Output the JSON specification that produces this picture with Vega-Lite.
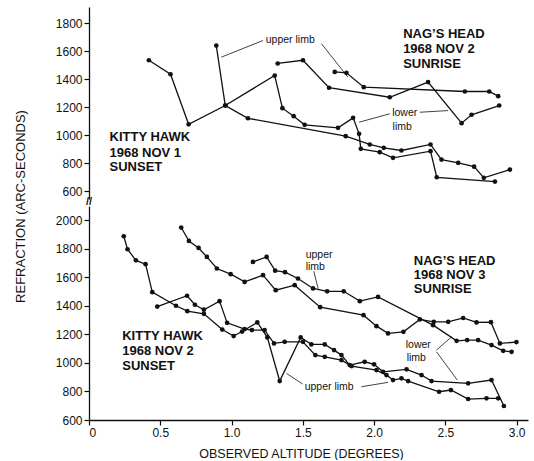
{
  "$schema": "https://vega.github.io/schema/vega-lite/v6.json",
  "background": "white",
  "padding": {"left": 14, "top": 7, "right": 5, "bottom": 0},
  "spacing": 7,
  "bounds": "flush",
  "config": {
    "view": {"stroke": null},
    "font": "Liberation Sans",
    "axis": {
      "grid": false,
      "labelOverlap": false,
      "domainColor": "#111",
      "tickColor": "#111",
      "labelColor": "#111",
      "titleColor": "#111",
      "labelFont": "Liberation Sans",
      "titleFont": "Liberation Sans",
      "labelFontSize": 12,
      "tickSize": 5,
      "labelPadding": 2,
      "domainWidth": 1.3,
      "tickWidth": 1.2
    }
  },
  "datasets": {
    "top": [
      {"s": "KH1a", "i": 1, "alt": 0.42, "ref": 1535},
      {"s": "KH1a", "i": 2, "alt": 0.572, "ref": 1435},
      {"s": "KH1a", "i": 3, "alt": 0.699, "ref": 1078},
      {"s": "KH1a", "i": 4, "alt": 0.956, "ref": 1212},
      {"s": "KH1a", "i": 5, "alt": 1.303, "ref": 1426},
      {"s": "KH1a", "i": 6, "alt": 1.357, "ref": 1193},
      {"s": "KH1a", "i": 7, "alt": 1.436, "ref": 1136},
      {"s": "KH1a", "i": 8, "alt": 1.513, "ref": 1074},
      {"s": "KH1a", "i": 9, "alt": 1.747, "ref": 1053},
      {"s": "KH1a", "i": 10, "alt": 1.853, "ref": 1124},
      {"s": "KH1a", "i": 11, "alt": 1.895, "ref": 1010},
      {"s": "KH1a", "i": 12, "alt": 1.907, "ref": 903},
      {"s": "KH1a", "i": 13, "alt": 2.04, "ref": 879},
      {"s": "KH1a", "i": 14, "alt": 2.133, "ref": 839},
      {"s": "KH1a", "i": 15, "alt": 2.396, "ref": 886},
      {"s": "KH1a", "i": 16, "alt": 2.44, "ref": 700},
      {"s": "KH1a", "i": 17, "alt": 2.848, "ref": 669},
      {"s": "KH1b", "i": 1, "alt": 0.893, "ref": 1640},
      {"s": "KH1b", "i": 2, "alt": 0.956, "ref": 1212},
      {"s": "KH1b", "i": 3, "alt": 1.115, "ref": 1121},
      {"s": "KH1b", "i": 4, "alt": 1.801, "ref": 993},
      {"s": "KH1b", "i": 5, "alt": 1.97, "ref": 934},
      {"s": "KH1b", "i": 6, "alt": 2.068, "ref": 910},
      {"s": "KH1b", "i": 7, "alt": 2.192, "ref": 891},
      {"s": "KH1b", "i": 8, "alt": 2.396, "ref": 934},
      {"s": "KH1b", "i": 9, "alt": 2.473, "ref": 826},
      {"s": "KH1b", "i": 10, "alt": 2.59, "ref": 803},
      {"s": "KH1b", "i": 11, "alt": 2.702, "ref": 776},
      {"s": "KH1b", "i": 12, "alt": 2.77, "ref": 696},
      {"s": "KH1b", "i": 13, "alt": 2.953, "ref": 755},
      {"s": "NH2a", "i": 1, "alt": 1.324, "ref": 1512},
      {"s": "NH2a", "i": 2, "alt": 1.501, "ref": 1535},
      {"s": "NH2a", "i": 3, "alt": 1.684, "ref": 1339},
      {"s": "NH2a", "i": 4, "alt": 2.11, "ref": 1271},
      {"s": "NH2a", "i": 5, "alt": 2.379, "ref": 1379},
      {"s": "NH2a", "i": 6, "alt": 2.614, "ref": 1086},
      {"s": "NH2a", "i": 7, "alt": 2.684, "ref": 1146},
      {"s": "NH2a", "i": 8, "alt": 2.878, "ref": 1212},
      {"s": "NH2b", "i": 1, "alt": 1.724, "ref": 1452},
      {"s": "NH2b", "i": 2, "alt": 1.806, "ref": 1445},
      {"s": "NH2b", "i": 3, "alt": 1.928, "ref": 1343},
      {"s": "NH2b", "i": 4, "alt": 2.637, "ref": 1312},
      {"s": "NH2b", "i": 5, "alt": 2.808, "ref": 1312},
      {"s": "NH2b", "i": 6, "alt": 2.871, "ref": 1279}
    ],
    "bottom": [
      {"s": "U1", "i": 1, "alt": 0.647, "ref": 1949},
      {"s": "U1", "i": 2, "alt": 0.701, "ref": 1855},
      {"s": "U1", "i": 3, "alt": 0.769, "ref": 1806},
      {"s": "U1", "i": 4, "alt": 0.827, "ref": 1743},
      {"s": "U1", "i": 5, "alt": 0.897, "ref": 1662},
      {"s": "U1", "i": 6, "alt": 0.994, "ref": 1622},
      {"s": "U1", "i": 7, "alt": 1.092, "ref": 1568},
      {"s": "U1", "i": 8, "alt": 1.221, "ref": 1615},
      {"s": "U1", "i": 9, "alt": 1.31, "ref": 1510},
      {"s": "U1", "i": 10, "alt": 1.443, "ref": 1545},
      {"s": "U1", "i": 11, "alt": 1.622, "ref": 1391},
      {"s": "U1", "i": 12, "alt": 1.926, "ref": 1335},
      {"s": "U1", "i": 13, "alt": 2.017, "ref": 1258},
      {"s": "U1", "i": 14, "alt": 2.098, "ref": 1207},
      {"s": "U1", "i": 15, "alt": 2.206, "ref": 1218},
      {"s": "U1", "i": 16, "alt": 2.321, "ref": 1305},
      {"s": "U1", "i": 17, "alt": 2.419, "ref": 1288},
      {"s": "U1", "i": 18, "alt": 2.52, "ref": 1288},
      {"s": "U1", "i": 19, "alt": 2.625, "ref": 1315},
      {"s": "U1", "i": 20, "alt": 2.719, "ref": 1284},
      {"s": "U1", "i": 21, "alt": 2.82, "ref": 1286},
      {"s": "U1", "i": 22, "alt": 2.883, "ref": 1137},
      {"s": "U1", "i": 23, "alt": 2.999, "ref": 1146},
      {"s": "U2", "i": 1, "alt": 1.15, "ref": 1708},
      {"s": "U2", "i": 2, "alt": 1.246, "ref": 1743},
      {"s": "U2", "i": 3, "alt": 1.306, "ref": 1647},
      {"s": "U2", "i": 4, "alt": 1.375, "ref": 1636},
      {"s": "U2", "i": 5, "alt": 1.466, "ref": 1592},
      {"s": "U2", "i": 6, "alt": 1.572, "ref": 1522},
      {"s": "U2", "i": 7, "alt": 1.671, "ref": 1502},
      {"s": "U2", "i": 8, "alt": 1.787, "ref": 1502},
      {"s": "U2", "i": 9, "alt": 1.9, "ref": 1433},
      {"s": "U2", "i": 10, "alt": 2.028, "ref": 1463},
      {"s": "U2", "i": 11, "alt": 2.414, "ref": 1265},
      {"s": "U2", "i": 12, "alt": 2.579, "ref": 1155},
      {"s": "U2", "i": 13, "alt": 2.653, "ref": 1160},
      {"s": "U2", "i": 14, "alt": 2.73, "ref": 1160},
      {"s": "U2", "i": 15, "alt": 2.824, "ref": 1125},
      {"s": "U2", "i": 16, "alt": 2.906, "ref": 1085},
      {"s": "U2", "i": 17, "alt": 2.965, "ref": 1078},
      {"s": "LA", "i": 1, "alt": 0.244, "ref": 1888},
      {"s": "LA", "i": 2, "alt": 0.27, "ref": 1797},
      {"s": "LA", "i": 3, "alt": 0.329, "ref": 1719},
      {"s": "LA", "i": 4, "alt": 0.397, "ref": 1692},
      {"s": "LA", "i": 5, "alt": 0.444, "ref": 1496},
      {"s": "LA", "i": 6, "alt": 0.61, "ref": 1401},
      {"s": "LA", "i": 7, "alt": 0.69, "ref": 1363},
      {"s": "LA", "i": 8, "alt": 0.806, "ref": 1344},
      {"s": "LA", "i": 9, "alt": 0.935, "ref": 1234},
      {"s": "LA", "i": 10, "alt": 1.015, "ref": 1188},
      {"s": "LA", "i": 11, "alt": 1.074, "ref": 1220},
      {"s": "LA", "i": 12, "alt": 1.181, "ref": 1284},
      {"s": "LA", "i": 13, "alt": 1.251, "ref": 1179},
      {"s": "LA", "i": 14, "alt": 1.338, "ref": 873},
      {"s": "LA", "i": 15, "alt": 1.485, "ref": 1179},
      {"s": "LA", "i": 16, "alt": 1.56, "ref": 1130},
      {"s": "LA", "i": 17, "alt": 1.654, "ref": 1130},
      {"s": "LA", "i": 18, "alt": 1.719, "ref": 1090},
      {"s": "LA", "i": 19, "alt": 1.771, "ref": 1055},
      {"s": "LA", "i": 20, "alt": 1.829, "ref": 985},
      {"s": "LA", "i": 21, "alt": 1.934, "ref": 1008},
      {"s": "LA", "i": 22, "alt": 2.0, "ref": 990},
      {"s": "LA", "i": 23, "alt": 2.063, "ref": 938},
      {"s": "LA", "i": 24, "alt": 2.228, "ref": 955},
      {"s": "LA", "i": 25, "alt": 2.333, "ref": 915},
      {"s": "LA", "i": 26, "alt": 2.403, "ref": 873},
      {"s": "LA", "i": 27, "alt": 2.66, "ref": 857},
      {"s": "LA", "i": 28, "alt": 2.824, "ref": 880},
      {"s": "LA", "i": 29, "alt": 2.911, "ref": 698},
      {"s": "LB", "i": 1, "alt": 0.479, "ref": 1395},
      {"s": "LB", "i": 2, "alt": 0.688, "ref": 1471},
      {"s": "LB", "i": 3, "alt": 0.743, "ref": 1408},
      {"s": "LB", "i": 4, "alt": 0.806, "ref": 1373},
      {"s": "LB", "i": 5, "alt": 0.916, "ref": 1433},
      {"s": "LB", "i": 6, "alt": 0.969, "ref": 1281},
      {"s": "LB", "i": 7, "alt": 1.092, "ref": 1237},
      {"s": "LB", "i": 8, "alt": 1.143, "ref": 1230},
      {"s": "LB", "i": 9, "alt": 1.232, "ref": 1230},
      {"s": "LB", "i": 10, "alt": 1.298, "ref": 1137},
      {"s": "LB", "i": 11, "alt": 1.373, "ref": 1148},
      {"s": "LB", "i": 12, "alt": 1.501, "ref": 1148},
      {"s": "LB", "i": 13, "alt": 1.588, "ref": 1055},
      {"s": "LB", "i": 14, "alt": 1.654, "ref": 1043},
      {"s": "LB", "i": 15, "alt": 1.771, "ref": 1020},
      {"s": "LB", "i": 16, "alt": 1.843, "ref": 978},
      {"s": "LB", "i": 17, "alt": 2.017, "ref": 950},
      {"s": "LB", "i": 18, "alt": 2.087, "ref": 915},
      {"s": "LB", "i": 19, "alt": 2.133, "ref": 880},
      {"s": "LB", "i": 20, "alt": 2.192, "ref": 892},
      {"s": "LB", "i": 21, "alt": 2.239, "ref": 873},
      {"s": "LB", "i": 22, "alt": 2.456, "ref": 798},
      {"s": "LB", "i": 23, "alt": 2.539, "ref": 810},
      {"s": "LB", "i": 24, "alt": 2.66, "ref": 747},
      {"s": "LB", "i": 25, "alt": 2.789, "ref": 752},
      {"s": "LB", "i": 26, "alt": 2.871, "ref": 752}
    ],
    "topTitles": [
      {"alt": 0.144, "ref": 984, "t": "KITTY HAWK"},
      {"alt": 0.144, "ref": 876, "t": "1968 NOV 1"},
      {"alt": 0.144, "ref": 776, "t": "SUNSET"},
      {"alt": 2.204, "ref": 1724, "t": "NAG’S HEAD"},
      {"alt": 2.204, "ref": 1617, "t": "1968 NOV 2"},
      {"alt": 2.204, "ref": 1510, "t": "SUNRISE"}
    ],
    "topNotes": [
      {"alt": 1.24, "ref": 1681, "t": "upper limb"},
      {"alt": 2.127, "ref": 1157, "t": "lower"},
      {"alt": 2.13, "ref": 1062, "t": "limb"}
    ],
    "topArrows": [
      {"alt": 1.221, "ref": 1676, "alt2": 0.928, "ref2": 1557},
      {"alt": 1.631, "ref": 1653, "alt2": 1.817, "ref2": 1414},
      {"alt": 2.11, "ref": 1153, "alt2": 1.895, "ref2": 1093},
      {"alt": 2.321, "ref": 1164, "alt2": 2.52, "ref2": 1176}
    ],
    "bottomTitles": [
      {"alt": 0.233, "ref": 1188, "t": "KITTY HAWK"},
      {"alt": 0.233, "ref": 1083, "t": "1968 NOV 2"},
      {"alt": 0.233, "ref": 980, "t": "SUNSET"},
      {"alt": 2.279, "ref": 1715, "t": "NAG’S HEAD"},
      {"alt": 2.279, "ref": 1615, "t": "1968 NOV 3"},
      {"alt": 2.279, "ref": 1515, "t": "SUNRISE"}
    ],
    "bottomNotes": [
      {"alt": 1.52, "ref": 1755, "t": "upper"},
      {"alt": 1.52, "ref": 1673, "t": "limb"},
      {"alt": 2.222, "ref": 1125, "t": "lower"},
      {"alt": 2.229, "ref": 1032, "t": "limb"},
      {"alt": 1.513, "ref": 833, "t": "upper limb"}
    ],
    "bottomArrows": [
      {"alt": 1.577, "ref": 1643, "alt2": 1.608, "ref2": 1520},
      {"alt": 2.438, "ref": 1090, "alt2": 2.544, "ref2": 1183},
      {"alt": 2.438, "ref": 1078, "alt2": 2.584, "ref2": 880},
      {"alt": 1.499, "ref": 852, "alt2": 1.385, "ref2": 927},
      {"alt": 1.911, "ref": 833, "alt2": 2.098, "ref2": 864}
    ],
    "breakMark": [
      {"alt": 0, "ref": 2130, "t": "//"}
    ]
  },
  "vconcat": [
    {
      "width": 439,
      "height": 192,
      "layer": [
        {
          "data": {"name": "top"},
          "mark": {"type": "line", "color": "#111", "strokeWidth": 1.3, "point": {"filled": true, "size": 22, "color": "#111"}},
          "encoding": {
            "x": {"field": "alt", "type": "quantitative", "scale": {"domain": [0, 3.08], "nice": false, "zero": false}, "axis": null},
            "y": {"field": "ref", "type": "quantitative", "scale": {"domain": [545, 1915], "nice": false, "zero": false},
                  "axis": {"values": [600, 800, 1000, 1200, 1400, 1600, 1800], "tickCount": 20, "format": "d", "title": null, "labelOverlap": false, "labelBound": false}},
            "detail": {"field": "s"},
            "order": {"field": "i"}
          }
        },
        {
          "data": {"name": "topArrows"},
          "mark": {"type": "rule", "color": "#111", "strokeWidth": 0.8},
          "encoding": {
            "x": {"field": "alt", "type": "quantitative"},
            "y": {"field": "ref", "type": "quantitative"},
            "x2": {"field": "alt2"},
            "y2": {"field": "ref2"}
          }
        },
        {
          "data": {"name": "topTitles"},
          "mark": {"type": "text", "align": "left", "baseline": "middle", "fontWeight": "bold", "fontSize": 13, "color": "#111"},
          "encoding": {
            "x": {"field": "alt", "type": "quantitative"},
            "y": {"field": "ref", "type": "quantitative"},
            "text": {"field": "t"}
          }
        },
        {
          "data": {"name": "topNotes"},
          "mark": {"type": "text", "align": "left", "baseline": "middle", "fontSize": 10.5, "color": "#111"},
          "encoding": {
            "x": {"field": "alt", "type": "quantitative"},
            "y": {"field": "ref", "type": "quantitative"},
            "text": {"field": "t"}
          }
        }
      ]
    },
    {
      "width": 439,
      "height": 214,
      "layer": [
        {
          "data": {"name": "bottom"},
          "mark": {"type": "line", "color": "#111", "strokeWidth": 1.3, "point": {"filled": true, "size": 22, "color": "#111"}},
          "encoding": {
            "x": {"field": "alt", "type": "quantitative", "scale": {"domain": [0, 3.08], "nice": false, "zero": false},
                  "axis": {"values": [0, 0.5, 1, 1.5, 2, 2.5, 3], "tickCount": 20, "labelExpr": "datum.value == 0 ? '0' : format(datum.value, '.1f')",
                           "labelOverlap": false,
                           "title": "OBSERVED ALTITUDE (DEGREES)", "titleFontWeight": "normal", "titleFontSize": 12.5,
                           "titleX": 212, "titleY": 33, "titleAlign": "center", "titleBaseline": "middle"}},
            "y": {"field": "ref", "type": "quantitative", "scale": {"domain": [600, 2100], "nice": false, "zero": false},
                  "axis": {"values": [600, 800, 1000, 1200, 1400, 1600, 1800, 2000], "tickCount": 20, "format": "d",
                           "labelOverlap": false, "labelBound": false,
                           "title": "REFRACTION (ARC-SECONDS)", "titleFontWeight": "normal", "titleFontSize": 13,
                           "titleX": -68.5, "titleY": 0, "titleAngle": -90, "titleAlign": "center", "titleBaseline": "middle"}},
            "detail": {"field": "s"},
            "order": {"field": "i"}
          }
        },
        {
          "data": {"name": "bottomArrows"},
          "mark": {"type": "rule", "color": "#111", "strokeWidth": 0.8},
          "encoding": {
            "x": {"field": "alt", "type": "quantitative"},
            "y": {"field": "ref", "type": "quantitative"},
            "x2": {"field": "alt2"},
            "y2": {"field": "ref2"}
          }
        },
        {
          "data": {"name": "bottomTitles"},
          "mark": {"type": "text", "align": "left", "baseline": "middle", "fontWeight": "bold", "fontSize": 13, "color": "#111"},
          "encoding": {
            "x": {"field": "alt", "type": "quantitative"},
            "y": {"field": "ref", "type": "quantitative"},
            "text": {"field": "t"}
          }
        },
        {
          "data": {"name": "bottomNotes"},
          "mark": {"type": "text", "align": "left", "baseline": "middle", "fontSize": 10.5, "color": "#111"},
          "encoding": {
            "x": {"field": "alt", "type": "quantitative"},
            "y": {"field": "ref", "type": "quantitative"},
            "text": {"field": "t"}
          }
        },
        {
          "data": {"name": "breakMark"},
          "mark": {"type": "text", "align": "center", "baseline": "middle", "fontSize": 11, "fontWeight": "bold", "color": "#111"},
          "encoding": {
            "x": {"field": "alt", "type": "quantitative"},
            "y": {"field": "ref", "type": "quantitative"},
            "text": {"field": "t"}
          }
        }
      ]
    }
  ]
}
